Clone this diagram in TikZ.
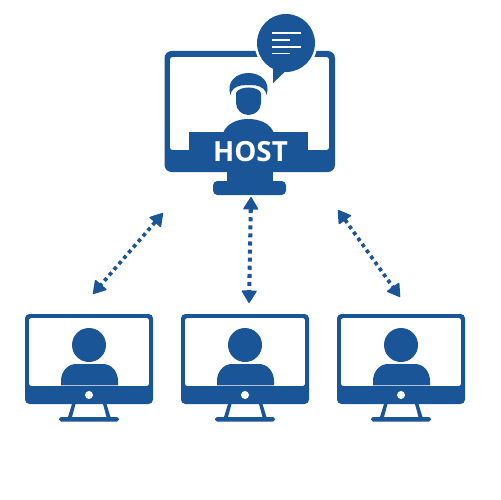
\documentclass[tikz,border=0pt]{standalone}
\usepackage{fontspec}
\setsansfont{Open Sans}
\usetikzlibrary{arrows.meta}
\definecolor{monitor}{HTML}{1A5598}
\tikzset{
  solid part/.style={fill=monitor,draw=none},
  link/.style={draw=monitor,line width=#1,dash pattern=on #1 off #1,
    {Triangle[round,length=7.5pt,width=9pt,line width=0.8pt,fill=monitor,sep=0pt]}-{Triangle[round,length=7.5pt,width=9pt,line width=0.8pt,fill=monitor,sep=0pt]}},
}
\newcommand{\clientpc}[2]{%
\begin{scope}[xshift=#2*0.02cm]
\fill[monitor,rounded corners=2.5pt] (25,314) rectangle (153,404);
\node[fill=white,rounded corners=1pt,inner sep=0pt,minimum width=2.4cm,minimum height=1.36cm] (#1) at (89,352) {};
\fill[monitor] (89,345) circle (17);
\fill[monitor] (61,385.3) -- (61,381) .. controls (61,371) and (68,364) .. (76,364) -- (103,364) .. controls (111,364) and (118,371) .. (118,381) -- (118,385.3) -- cycle;
\fill[white] (89,395) circle (4);
\fill[monitor] (72,404) -- (75.5,404) -- (72,417) -- (68,417) -- cycle;
\fill[monitor] (103,404) -- (106.5,404) -- (110.5,417) -- (106.5,417) -- cycle;
\fill[monitor,rounded corners=1.1pt] (59,417) rectangle (119,421.5);
\end{scope}}
\begin{document}
\begin{tikzpicture}[x=0.02cm,y=-0.02cm]
\useasboundingbox (0,0) rectangle (500,500);
\fill[white] (0,0) rectangle (500,500);
\fill[monitor,rounded corners=4pt] (164.5,51) rectangle (335,172);
\node[fill=white,rounded corners=1.5pt,inner sep=0pt,minimum width=3.18cm,minimum height=1.86cm] (hostpc) at (249.5,103.5) {};
\fill[solid part] (189,132) rectangle (308,150);
\fill[solid part] (223,133) .. controls (227,123) and (238,119) .. (248,119) .. controls (259,119) and (270,123) .. (274,133) -- cycle;
\fill[solid part] (227,172) rectangle (273,182);
\fill[monitor,rounded corners=2.5pt] (213,181) rectangle (286,195);
\fill[solid part] (236,93) .. controls (237,89.5) and (243,87.5) .. (248.5,87.5) .. controls (254,87.5) and (260,89.5) .. (261,93) -- (261,103) .. controls (261,110) and (255,115) .. (248.5,115) .. controls (242,115) and (236,110) .. (236,103) -- cycle;
\fill[solid part] (230.5,95) .. controls (226,82) and (236,73) .. (248.5,73) .. controls (261,73) and (271,82) .. (266.5,95) .. controls (266,90) and (262,86.5) .. (256,85.5) .. controls (252,85) and (245,85) .. (241,85.5) .. controls (235,86.5) and (231,90) .. (230.5,95) -- cycle;
\fill[white] (286,43) circle (31.5);
\fill[white] (268,62) -- (271,88) -- (292,70) -- cycle;
\fill[solid part] (286,43) circle (29);
\fill[solid part] (273,62) -- (273,83) -- (291,66) -- cycle;
\foreach \ly/\lx in {33/301,40/290,47/301,53.5/290}
  \draw[white,line width=1pt] (272,\ly) -- (\lx,\ly);
\node[text=white,font=\sffamily\bfseries\fontsize{15.8pt}{16pt}\selectfont,inner sep=0pt] (hostlabel) at (250.5,151.5) {HOST};
\clientpc{clienta}{0}
\clientpc{clientb}{156}
\clientpc{clientc}{312}
\coordinate (hostleft) at (163,213);
\coordinate (hostmid) at (251,197);
\coordinate (hostright) at (338,210);
\coordinate (clientatop) at (93,294);
\coordinate (clientbtop) at (249,303);
\coordinate (clientctop) at (400,297);
\draw[link=2.1pt] (hostleft) -- (clientatop);
\draw[link=2.3pt] (hostmid) -- (clientbtop);
\draw[link=2.1pt] (hostright) -- (clientctop);
\end{tikzpicture}
\end{document}
